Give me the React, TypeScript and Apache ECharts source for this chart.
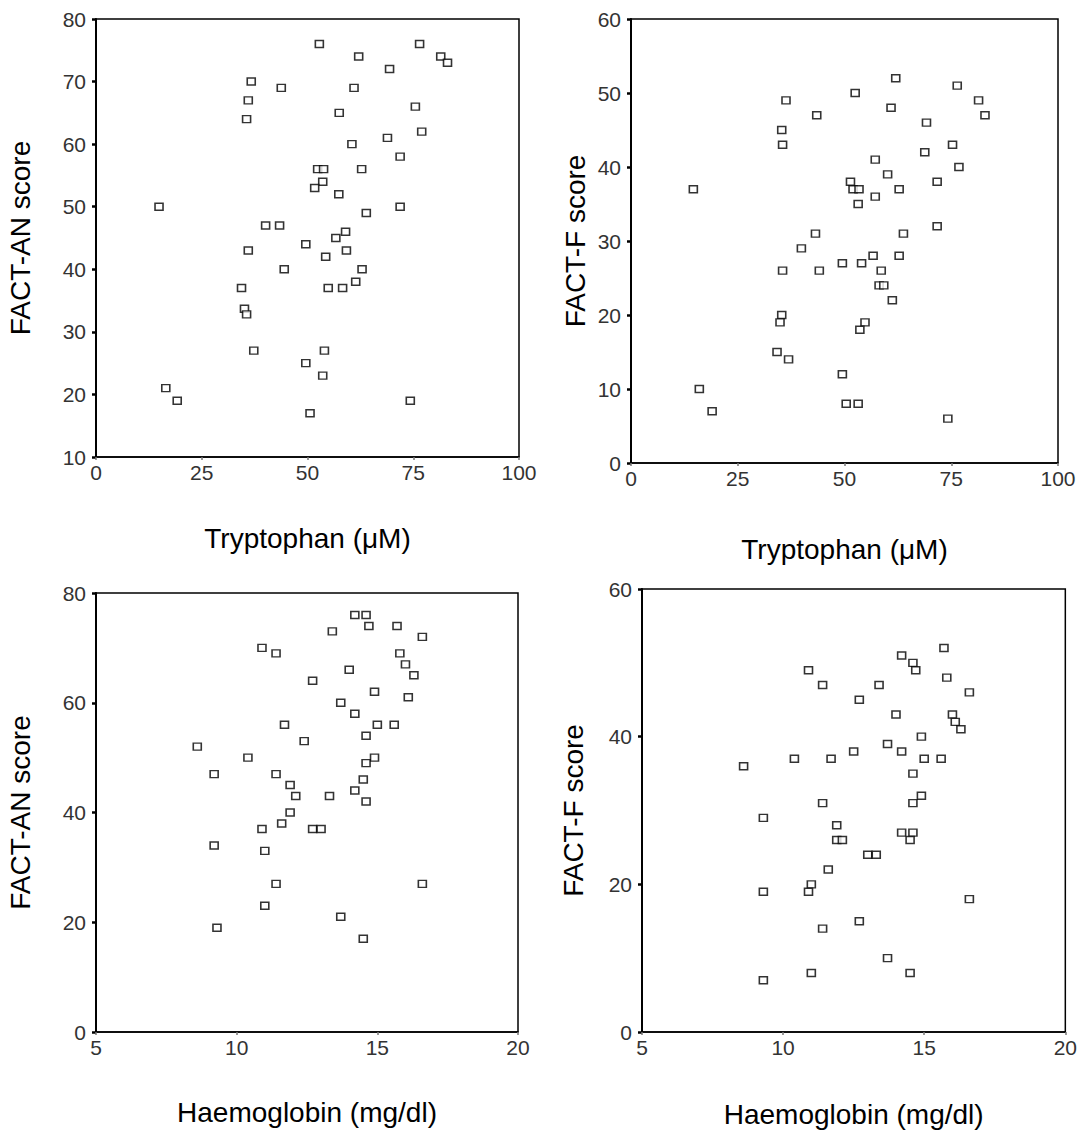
import React, { useEffect, useRef } from "react";
import * as echarts from "echarts";

// Panel data: [x, y]
const tryptophanVsFactAN: [number, number][] = [
  [52.8, 76], [76.5, 76], [62.1, 74], [81.5, 74], [83.1, 73], [69.4, 72], [36.7, 70], [43.8, 69],
  [61, 69], [36, 67], [75.5, 66], [57.5, 65], [35.6, 64], [77, 62], [68.9, 61], [60.5, 60],
  [71.9, 58], [52.4, 56], [53.8, 56], [62.8, 56], [53.6, 54], [51.7, 53], [57.4, 52], [14.9, 50],
  [71.9, 50], [63.9, 49], [40.1, 47], [43.4, 47], [59, 46], [56.7, 45], [49.6, 44], [36, 43],
  [59.2, 43], [54.3, 42], [44.5, 40], [62.9, 40], [61.4, 38], [34.4, 37], [54.9, 37], [58.3, 37],
  [35.1, 33.7], [35.6, 32.8], [37.3, 27], [54, 27], [49.6, 25], [53.6, 23], [16.5, 21], [19.2, 19],
  [74.3, 19], [50.6, 17],
];

const tryptophanVsFactF: [number, number][] = [
  [62, 52], [76.4, 51], [52.5, 50], [36.3, 49], [81.4, 49], [60.9, 48], [43.5, 47], [82.9, 47],
  [69.2, 46], [35.3, 45], [35.5, 43], [75.3, 43], [68.8, 42], [57.2, 41], [76.8, 40], [60.1, 39],
  [51.4, 38], [71.7, 38], [14.6, 37], [52, 37], [53.4, 37], [62.8, 37], [57.2, 36], [53.2, 35],
  [43.2, 31], [63.8, 31], [71.7, 32], [39.9, 29], [56.7, 28], [62.8, 28], [49.5, 27], [54, 27],
  [35.5, 26], [44.1, 26], [58.6, 26], [58.1, 24], [59.2, 24], [61.2, 22], [35.3, 20], [34.9, 19],
  [54.8, 19], [53.6, 18], [34.2, 15], [36.9, 14], [49.5, 12], [16, 10], [50.4, 8], [53.2, 8],
  [19, 7], [74.2, 6],
];

const haemoglobinVsFactAN: [number, number][] = [
  [14.2, 76], [14.6, 76], [14.7, 74], [15.7, 74], [13.4, 73], [16.6, 72], [10.9, 70], [11.4, 69],
  [15.8, 69], [16, 67], [14, 66], [16.3, 65], [12.7, 64], [14.9, 62], [16.1, 61], [13.7, 60],
  [14.2, 58], [11.7, 56], [15, 56], [15.6, 56], [14.6, 54], [12.4, 53], [8.6, 52], [10.4, 50],
  [14.9, 50], [14.6, 49], [9.2, 47], [11.4, 47], [14.5, 46], [11.9, 45], [14.2, 44], [12.1, 43],
  [13.3, 43], [14.6, 42], [11.9, 40], [11.6, 38], [10.9, 37], [12.7, 37], [13, 37], [9.2, 34],
  [11, 33], [11.4, 27], [16.6, 27], [11, 23], [13.7, 21], [9.3, 19], [14.5, 17],
];

const haemoglobinVsFactF: [number, number][] = [
  [15.7, 52], [14.2, 51], [14.6, 50], [14.7, 49], [10.9, 49], [15.8, 48], [11.4, 47], [13.4, 47],
  [16.6, 46], [12.7, 45], [14, 43], [16, 43], [16.1, 42], [16.3, 41], [14.9, 40], [13.7, 39],
  [12.5, 38], [14.2, 38], [10.4, 37], [11.7, 37], [15, 37], [15.6, 37], [8.6, 36], [14.6, 35],
  [14.9, 32], [11.4, 31], [14.6, 31], [9.3, 29], [11.9, 28], [14.2, 27], [14.6, 27], [11.9, 26],
  [12.1, 26], [14.5, 26], [13, 24], [13.3, 24], [11.6, 22], [11, 20], [10.9, 19], [9.3, 19],
  [16.6, 18], [12.7, 15], [11.4, 14], [13.7, 10], [11, 8], [14.5, 8], [9.3, 7],
];

const xTitles = ["Tryptophan (μM)", "Tryptophan (μM)", "Haemoglobin (mg/dl)", "Haemoglobin (mg/dl)"];
const yTitles = ["FACT-AN score", "FACT-F score", "FACT-AN score", "FACT-F score"];
const xRanges = [[0, 100, 25], [0, 100, 25], [5, 20, 5], [5, 20, 5]];
const yRanges = [[10, 80, 10], [0, 60, 10], [0, 80, 20], [0, 60, 20]];

const FONT = "'Liberation Sans', Arial, sans-serif";

export default function App() {
  const ref = useRef<HTMLDivElement>(null);

  useEffect(() => {
    if (!ref.current) return;
    const chart = echarts.init(ref.current, undefined, { renderer: "svg" });

    const grids = [
      { left: 96, top: 19, width: 423, height: 438 },
      { left: 631, top: 19, width: 427, height: 444 },
      { left: 96, top: 593, width: 422, height: 439 },
      { left: 642, top: 589, width: 427, height: 443 },
    ];
    const yNameGaps = [62, 42, 62, 55];
    const xNameGaps = [67, 72, 66, 68];
    const datasets = [tryptophanVsFactAN, tryptophanVsFactF, haemoglobinVsFactAN, haemoglobinVsFactF];

    const option: any = {
      animation: false,
      backgroundColor: "#fff",
      grid: grids.map((g) => ({
        ...g,
        show: true,
        borderColor: "#000",
        borderWidth: 1.5,
        backgroundColor: "#fff",
        containLabel: false,
      })),
      xAxis: grids.map((_, i) => ({
        type: "value",
        gridIndex: i,
        min: xRanges[i][0],
        max: xRanges[i][1],
        interval: xRanges[i][2],
        name: xTitles[i],
        nameLocation: "middle",
        nameGap: xNameGaps[i],
        nameTextStyle: { fontFamily: FONT, fontSize: 28, color: "#000" },
        axisLine: { show: true, onZero: false, lineStyle: { color: "#000", width: 1.5 } },
        axisTick: { show: true, length: 3, lineStyle: { color: "#777", width: 1.5 } },
        axisLabel: {
          show: true,
          margin: 5,
          fontFamily: FONT,
          fontSize: 21,
          color: "#333",
          showMinLabel: true,
          showMaxLabel: true,
          hideOverlap: false,
        },
        splitLine: { show: false },
      })),
      yAxis: grids.map((_, i) => ({
        type: "value",
        gridIndex: i,
        min: yRanges[i][0],
        max: yRanges[i][1],
        interval: yRanges[i][2],
        name: yTitles[i],
        nameLocation: "middle",
        nameGap: yNameGaps[i],
        nameTextStyle: { fontFamily: FONT, fontSize: 28, color: "#000" },
        axisLine: { show: true, onZero: false, lineStyle: { color: "#000", width: 2 } },
        axisTick: { show: true, length: 4, lineStyle: { color: "#000", width: 2.5 } },
        axisLabel: {
          show: true,
          margin: 10,
          fontFamily: FONT,
          fontSize: 21,
          color: "#333",
          showMinLabel: true,
          showMaxLabel: true,
        },
        splitLine: { show: false },
      })),
      series: datasets.map((d, i) => ({
        type: "scatter",
        xAxisIndex: i,
        yAxisIndex: i,
        data: d,
        symbol: "rect",
        symbolSize: [8, 7],
        itemStyle: { color: "#fff", borderColor: "#000", borderWidth: 1.5 },
        emphasis: { disabled: true },
      })),
    };

    chart.setOption(option);
    return () => chart.dispose();
  }, []);

  return (
    <div
      ref={ref}
      style={{ position: "absolute", left: 0, top: 0, width: 1080, height: 1134, background: "#fff" }}
    />
  );
}
